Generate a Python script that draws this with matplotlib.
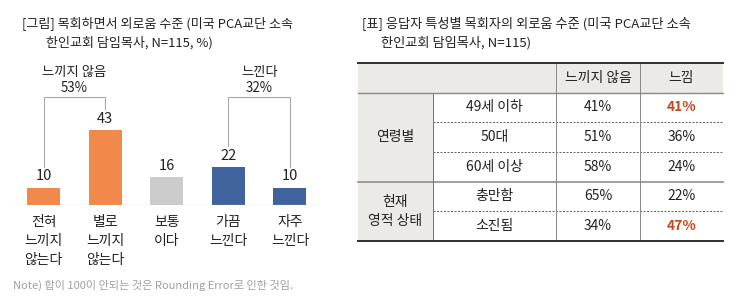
import matplotlib
matplotlib.use("Agg")
import matplotlib.pyplot as plt
from matplotlib.patches import Rectangle

plt.rcParams['font.family'] = ['Noto Sans CJK KR', 'DejaVu Sans']

# ---------------- data ----------------
categories = ['전혀\n느끼지\n않는다', '별로\n느끼지\n않는다', '보통\n이다', '가끔\n느낀다', '자주\n느낀다']
values = [10, 43, 16, 22, 10]
bar_colors = ['#F0894A', '#F0894A', '#CCCCCC', '#40639E', '#40639E']
bracket_groups = [(0, 1, '느끼지 않음', '53%'), (3, 4, '느낀다', '32%')]

chart_title = ['[그림] 목회하면서 외로움 수준 (미국 PCA교단 소속', '한인교회 담임목사, N=115, %)']
note = 'Note) 합이 100이 안되는 것은 Rounding Error로 인한 것임.'

table_title = ['[표] 응답자 특성별 목회자의 외로움 수준 (미국 PCA교단 소속', '한인교회 담임목사, N=115)']
table_header = ['느끼지 않음', '느낌']
table_groups = ['연령별', '현재\n영적 상태']
group_sizes = [3, 2]
row_labels = ['49세 이하', '50대', '60세 이상', '충만함', '소진됨']
not_feel = [41, 51, 58, 65, 34]
feel = [41, 36, 24, 22, 47]

# ---------------- figure ----------------
W, H = 736, 307
DPI = 100
fig = plt.figure(figsize=(W / DPI, H / DPI), dpi=DPI)
PX = 72 / DPI  # points per pixel

def fx(x):
    return x / W

def fy(y):
    return 1 - y / H

TXT = '#222222'

# titles
fig.text(fx(22), fy(23), chart_title[0], fontsize=9.4, color=TXT, va='center', ha='left')
fig.text(fx(46), fy(42.5), chart_title[1], fontsize=9.4, color=TXT, va='center', ha='left')
fig.text(fx(362), fy(23), table_title[0], fontsize=9.5, color=TXT, va='center', ha='left')
fig.text(fx(381), fy(42.5), table_title[1], fontsize=9.5, color=TXT, va='center', ha='left')
fig.text(fx(13), fy(285), note, fontsize=8.0, color='#A0A0A0', va='center', ha='left')

# ---------------- bar chart ----------------
base_px = 205
ax = fig.add_axes([fx(13), 1 - base_px / H, 307 / W, base_px / H])
ytop = 118.0
ax.set_ylim(0, ytop)
spacing = 61.6
ax.set_xlim(-30.5 / spacing, 4 + 30 / spacing)
ax.axis('off')
pxu = base_px / ytop  # pixels per data unit

xs = list(range(len(values)))
ax.bar(xs, values, width=33 / spacing, color=bar_colors, zorder=2)
ax.axhline(0, color='#BDBDBD', lw=1.2 * PX, zorder=3)

for x, v in zip(xs, values):
    ax.annotate(str(v), (x, v), xytext=(0, 3), textcoords='offset points',
                ha='center', va='bottom', fontsize=10.5, color=TXT)

for x, lab in zip(xs, categories):
    ax.annotate(lab, (x, 0), xytext=(0, -10 * PX), textcoords='offset points',
                ha='center', va='top', fontsize=10, color=TXT, linespacing=1.45,
                annotation_clip=False)

gap = 21 / pxu
btop = (base_px - 97) / pxu
for i0, i1, lab, pct in bracket_groups:
    ax.plot([i0, i0, i1, i1], [values[i0] + gap, btop, btop, values[i1] + gap],
            color='#A8A8A8', lw=1.1 * PX, clip_on=False, solid_joinstyle='miter')
    xm = (i0 + i1) / 2
    ax.text(xm, (base_px - 72) / pxu, lab, ha='center', va='center', fontsize=9.6, color=TXT)
    ax.text(xm, (base_px - 87.5) / pxu, pct, ha='center', va='center', fontsize=9.6, color=TXT)

# ---------------- table ----------------
tx = fig.add_axes([0, 0, 1, 1])
tx.set_xlim(0, W)
tx.set_ylim(H, 0)
tx.axis('off')

col_x = [358, 433, 556, 640, 723]
y_top, y_head = 63, 92.5
n_rows = len(row_labels)
row_h = (241 - y_head) / n_rows
y_bot = y_head + n_rows * row_h
BG = '#EBEAE6'

tx.add_patch(Rectangle((col_x[0], y_top), col_x[-1] - col_x[0], y_head - y_top,
                       facecolor=BG, edgecolor='none'))
tx.add_patch(Rectangle((col_x[0], y_head), col_x[1] - col_x[0], y_bot - y_head,
                       facecolor=BG, edgecolor='none'))

# header text
for j, h in enumerate(table_header):
    tx.text((col_x[2 + j] + col_x[3 + j]) / 2, (y_top + y_head) / 2, h,
            ha='center', va='center', fontsize=10, color=TXT)

# rows
r = 0
for g, size in zip(table_groups, group_sizes):
    g_top = y_head + r * row_h
    g_bot = g_top + size * row_h
    tx.text((col_x[0] + col_x[1]) / 2, (g_top + g_bot) / 2, g, ha='center', va='center',
            fontsize=10, color=TXT, linespacing=1.5)
    grp_feel = feel[r:r + size]
    mx = max(grp_feel)
    for k in range(size):
        i = r + k
        yc = y_head + (i + 0.5) * row_h
        tx.text((col_x[1] + col_x[2]) / 2, yc, row_labels[i], ha='center', va='center',
                fontsize=10, color=TXT)
        tx.text((col_x[2] + col_x[3]) / 2, yc, f'{not_feel[i]}%', ha='center', va='center',
                fontsize=10, color=TXT)
        hi = feel[i] == mx
        tx.text((col_x[3] + col_x[4]) / 2, yc, f'{feel[i]}%', ha='center', va='center',
                fontsize=10, color='#C8461E' if hi else TXT,
                fontweight='bold' if hi else 'normal')
        if k < size - 1:
            yl = y_head + (i + 1) * row_h
            tx.plot([col_x[1], col_x[-1]], [yl, yl], color='#666666', lw=1 * PX,
                    linestyle=(0, (2, 1.5)))
    if r + size < n_rows:
        tx.plot([col_x[0], col_x[-1]], [g_bot, g_bot], color='#8A8A8A', lw=1.6 * PX)
    r += size

# vertical lines
tx.plot([col_x[1], col_x[1]], [y_head, y_bot], color='#777777', lw=1 * PX)
for xv in col_x[2:4]:
    tx.plot([xv, xv], [y_top, y_bot], color='#8A8A8A', lw=1 * PX)

# horizontal rules
tx.plot([col_x[0], col_x[-1]], [y_head, y_head], color='#8A8A8A', lw=1.4 * PX)
tx.plot([col_x[0], col_x[-1]], [y_top, y_top], color='#333333', lw=2 * PX)
tx.plot([col_x[0], col_x[-1]], [y_bot, y_bot], color='#333333', lw=2 * PX)

fig.savefig('out.png', dpi=DPI)
